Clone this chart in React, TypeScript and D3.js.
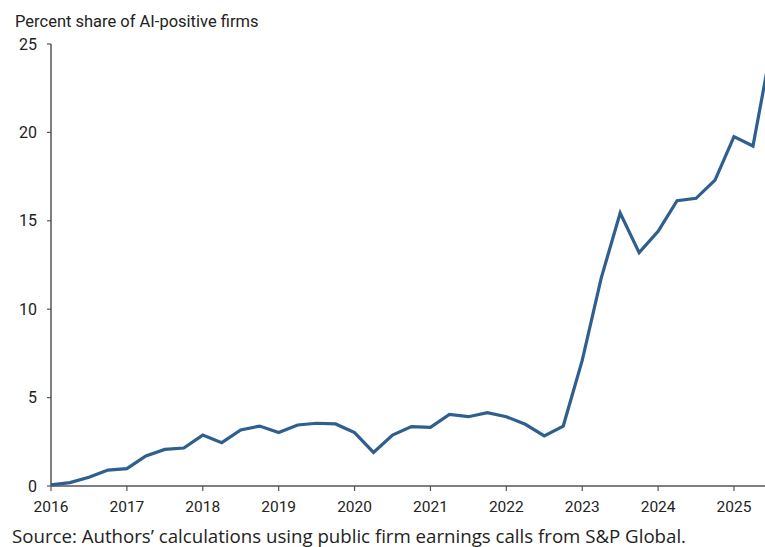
import React from "react";
import * as d3 from "d3";

const quarters: number[] = [
  2016, 2016.25, 2016.5, 2016.75,
  2017, 2017.25, 2017.5, 2017.75,
  2018, 2018.25, 2018.5, 2018.75,
  2019, 2019.25, 2019.5, 2019.75,
  2020, 2020.25, 2020.5, 2020.75,
  2021, 2021.25, 2021.5, 2021.75,
  2022, 2022.25, 2022.5, 2022.75,
  2023, 2023.25, 2023.5, 2023.75,
  2024, 2024.25, 2024.5, 2024.75,
  2025, 2025.25, 2025.5,
];
const shares: number[] = [
  0.06, 0.19, 0.49, 0.9,
  0.98, 1.7, 2.07, 2.15,
  2.88, 2.45, 3.17, 3.39,
  3.02, 3.45, 3.55, 3.51,
  3.02, 1.9, 2.88, 3.36,
  3.32, 4.05, 3.92, 4.15,
  3.92, 3.49, 2.83, 3.39,
  7.1, 11.76, 15.44, 13.2,
  14.4, 16.14, 16.27, 17.3,
  19.76, 19.23, 25.0,
];
const yTicks: number[] = [0, 5, 10, 15, 20, 25];
const xTicks: number[] = [2016, 2017, 2018, 2019, 2020, 2021, 2022, 2023, 2024, 2025];
const yTitle = "Percent share of AI-positive firms";
const source = "Source: Authors\u2019 calculations using public firm earnings calls from S&P Global.";

export default function App() {
  const W = 765, H = 547;
  const left = 51, right = 765, top = 44, bottom = 486;
  const x = d3.scaleLinear().domain([2016, 2025]).range([left, 734]);
  const y = d3.scaleLinear().domain([0, 25]).range([bottom, top]);
  const line = d3.line<number>().x((_, i) => x(quarters[i])).y((d) => y(d));
  const axisColor = "#555";
  const font = "Roboto, 'Noto Sans', sans-serif";
  return (
    <svg width={W} height={H} style={{ position: "absolute", left: 0, top: 0, background: "#fff" }}>
      <defs>
        <clipPath id="plotclip">
          <rect x={0} y={0} width={right} height={H} />
        </clipPath>
      </defs>
      <text x={15} y={27} fontFamily={font} fontSize={16.5} fill="#222">{yTitle}</text>
      <line x1={left} x2={left} y1={top} y2={bottom} stroke={axisColor} strokeWidth={1.5} />
      <line x1={left} x2={right} y1={bottom} y2={bottom} stroke={axisColor} strokeWidth={1.5} />
      {yTicks.map((t) => (
        <g key={"y" + t}>
          <line x1={left - 4} x2={left} y1={y(t)} y2={y(t)} stroke={axisColor} strokeWidth={1.2} />
          <text x={37} y={y(t) + 5.5} textAnchor="end" fontFamily={font} fontSize={16} fill="#222">{t}</text>
        </g>
      ))}
      {xTicks.map((t) => (
        <g key={"x" + t}>
          <line x1={x(t)} x2={x(t)} y1={bottom} y2={bottom + 5} stroke={axisColor} strokeWidth={1.2} />
          <text x={x(t)} y={512} textAnchor="middle" fontFamily={font} fontSize={15.5} fill="#222">{t}</text>
        </g>
      ))}
      <path d={line(shares) || ""} fill="none" stroke="#2e5f8f" strokeWidth={3.2} strokeLinejoin="miter" clipPath="url(#plotclip)" />
      <text x={12} y={543} fontFamily="'Open Sans', Lato, sans-serif" fontSize={18.5} fill="#222" textLength={674} lengthAdjust="spacingAndGlyphs">{source}</text>
    </svg>
  );
}
